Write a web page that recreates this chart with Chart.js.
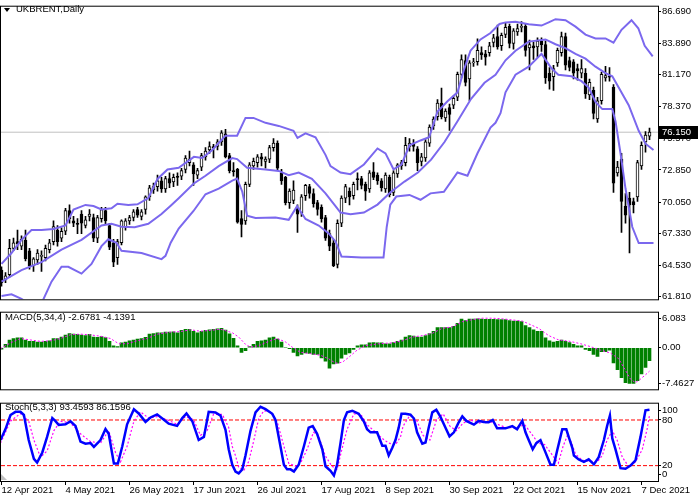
<!DOCTYPE html>
<html><head><meta charset="utf-8">
<script src="https://cdn.jsdelivr.net/npm/chart.js@4.4.0/dist/chart.umd.min.js"></script>
<style>
html,body{margin:0;padding:0;background:#fff;}
#wrap{position:relative;width:698px;height:500px;overflow:hidden;background:#fff;}
canvas{position:absolute;left:0;}
.lbl{position:absolute;font-family:'Liberation Sans',Arial,sans-serif;font-size:9.5px;color:#000;white-space:nowrap;line-height:1;}
.tri{position:absolute;left:4px;top:8px;width:0;height:0;border-left:3px solid transparent;border-right:3px solid transparent;border-top:4px solid #000;}
.shift{position:absolute;left:1px;top:474px;width:0;height:0;border-left:6px solid #c0c0c0;border-top:6px solid transparent;}
</style></head><body>
<div id="wrap">
<canvas id="c1" width="698" height="306" style="top:0;width:698px;height:306px"></canvas>
<canvas id="c2" width="698" height="90" style="top:306px;width:698px;height:90px"></canvas>
<canvas id="c3" width="698" height="103" style="top:397px;width:698px;height:103px"></canvas>
<div class="tri"></div>
<div class="shift"></div>
<div class="lbl" style="left:16px;top:4px">UKBRENT,Daily</div>
<div class="lbl" style="left:5px;top:312px">MACD(5,34,4) -2.6781 -4.1391</div>
<div class="lbl" style="left:5px;top:402px">Stoch(5,3,3) 93.4593 86.1596</div>
</div>
<script>
// ---------------- DATA ----------------
const dateLabels = ["12 Apr 2021","4 May 2021","26 May 2021","17 Jun 2021","26 Jul 2021","17 Aug 2021","8 Sep 2021","30 Sep 2021","22 Oct 2021","15 Nov 2021","7 Dec 2021"];
const dateTickBars = [0,16,32,48,64,80,96,112,128,144,160];

const opens = [64.1,63.3,63.7,66.0,66.6,66.2,66.7,65.8,64.5,65.0,65.3,65.2,65.9,66.6,67.6,66.9,67.5,69.3,68.4,68.2,69.0,68.0,68.8,68.7,66.9,68.6,69.3,68.0,66.5,65.2,66.5,67.9,68.4,68.7,69.4,68.8,69.4,70.5,71.1,71.4,71.9,71.2,72.1,
71.8,72.3,72.3,72.9,73.5,73.3,72.4,73.1,74.0,74.6,74.9,74.9,75.3,76.0,74.1,72.8,72.9,68.6,68.4,71.6,73.2,73.5,74.0,73.6,73.8,74.8,75.2,72.6,72.2,70.0,70.2,69.6,69.1,70.6,71.4,70.8,70.0,69.6,68.7,67.3,66.5,
64.6,68.2,70.4,71.0,70.6,72.1,72.1,71.6,71.2,72.7,72.4,71.9,71.2,72.2,70.9,72.5,73.2,73.5,74.9,75.2,74.7,73.6,73.9,75.2,76.7,77.5,78.7,77.4,78.3,78.5,79.2,81.2,82.4,80.8,82.2,82.3,83.1,83.0,83.1,84.0,84.5,
83.7,84.7,85.4,83.9,84.9,85.3,85.4,83.5,83.7,83.6,84.1,83.8,81.3,81.0,82.2,83.1,84.5,82.4,82.3,81.7,81.3,81.3,79.4,79.8,77.3,78.9,80.9,81.0,80.1,72.6,73.8,69.7,70.4,70.1,70.5,73.2,75.3,75.8];
const highs = [64.4,63.9,66.8,66.9,67.6,67.1,67.6,66.0,65.2,65.9,65.8,66.3,66.8,68.4,68.0,67.8,69.5,69.8,68.8,68.6,69.3,68.8,69.4,69.0,68.9,69.6,69.6,68.2,66.8,66.8,68.5,68.6,68.9,69.4,69.6,69.4,70.6,71.5,71.7,72.4,72.2,72.3,72.6,
72.5,72.6,73.0,74.1,74.5,73.5,73.0,74.3,74.8,75.3,75.1,75.5,76.3,76.4,74.3,73.5,73.0,69.3,71.8,73.5,73.9,74.2,74.3,74.0,75.0,75.6,75.4,72.9,72.3,71.2,71.9,69.8,70.7,71.6,71.6,71.2,70.2,69.8,68.9,67.6,66.8,
68.5,70.6,71.6,71.3,71.8,72.6,72.3,71.8,72.8,73.5,72.6,72.1,72.6,72.4,72.8,73.4,73.7,75.7,75.6,75.5,74.9,74.3,75.5,76.8,77.5,79.0,80.0,78.2,78.6,79.3,81.4,82.9,82.9,82.4,82.6,84.3,83.6,83.3,84.0,84.7,85.5,
84.8,85.7,85.6,85.2,85.6,85.8,85.6,84.2,84.0,84.4,84.4,84.1,81.8,82.0,83.5,84.9,84.8,82.7,82.5,82.1,82.5,81.7,80.8,80.1,79.2,81.4,81.9,81.8,80.3,73.6,74.3,70.8,70.9,70.4,73.7,75.3,76.2,76.5];
const lows = [62.7,63.0,63.5,65.8,65.9,65.9,64.9,64.2,64.0,64.6,64.0,64.9,65.6,66.3,66.2,66.6,67.2,68.2,67.9,67.3,67.3,67.8,68.4,66.6,66.5,68.3,68.1,65.9,64.4,64.6,66.3,67.6,68.1,68.4,68.7,68.5,69.0,70.2,70.8,71.0,70.9,70.9,71.3,
71.4,71.5,72.0,72.6,73.2,71.5,72.1,72.8,73.7,74.3,73.9,74.6,75.0,73.9,72.6,72.3,68.2,67.0,68.1,71.4,72.9,73.1,73.2,73.0,73.5,74.5,72.8,71.6,69.8,69.5,69.9,67.4,68.8,70.2,70.4,69.6,68.9,68.3,66.7,65.8,64.4,
64.3,67.9,70.0,69.8,70.3,71.1,71.2,70.2,70.9,72.0,71.6,71.0,70.9,70.5,70.6,72.2,72.9,73.2,74.5,74.5,72.8,73.2,73.6,74.9,76.4,77.2,77.3,77.1,76.3,78.2,78.9,80.9,80.2,78.9,81.9,82.0,82.5,82.0,82.8,83.6,83.4,
83.3,84.4,83.5,83.4,84.6,84.9,82.8,81.6,82.5,82.7,83.2,80.4,79.9,79.8,81.9,82.8,81.6,81.5,80.8,80.7,80.9,79.1,79.0,77.3,77.0,78.6,80.6,80.6,70.9,72.3,67.4,68.2,65.6,69.1,70.1,72.9,74.4,75.5];
const closes = [63.0,63.6,66.0,66.5,66.4,66.8,65.1,64.5,65.1,65.6,65.35,66.0,66.5,67.9,66.6,67.5,69.3,68.6,68.2,68.1,68.2,68.5,69.0,66.9,68.7,69.4,68.4,66.1,64.8,66.6,68.4,68.4,68.7,69.2,68.9,69.2,70.5,71.3,71.4,71.9,71.2,72.1,71.7,
72.2,72.2,72.8,73.9,73.8,72.5,72.8,74.1,74.5,74.9,74.8,75.3,76.1,74.0,72.8,72.7,68.3,68.1,71.6,73.3,73.6,74.0,73.8,73.8,74.8,75.2,73.0,71.9,70.0,71.0,71.1,69.0,70.5,71.5,70.8,69.9,69.4,68.6,66.9,66.2,64.5,
68.2,70.4,71.4,70.5,71.6,72.0,71.5,71.0,72.6,72.2,71.9,71.3,72.4,70.7,72.6,73.3,73.5,75.0,75.2,74.9,73.5,74.0,75.3,76.6,77.3,78.7,77.5,78.0,77.7,79.1,81.2,82.5,80.5,82.2,82.3,83.3,82.9,82.7,83.7,84.4,83.6,
84.6,85.3,83.9,85.0,85.2,85.4,83.3,83.8,83.5,84.1,83.8,80.9,80.6,81.7,83.3,84.5,82.0,81.8,81.3,81.5,81.7,79.5,80.5,77.8,78.9,81.2,81.1,80.95,71.7,73.1,70.1,68.9,69.8,69.8,73.5,75.0,75.9,76.15];

// Bollinger bands (bar position, value)
const bbUpperX = [0,2.5,5,7.5,10,13,16,18,21,23,25,27.5,29,31.7,34,36.7,39,41.5,44.3,48.1,50.2,52.7,56,58.9,61,63,66,69.3,73,74,76,78.5,81,82.25,84.75,87.25,90.6,94,96,98,100,102,104.75,106.9,109,111.5,114,115.6,117.25,119.75,122.25,124.5,126,128.5,131.8,135,136.8,138.5,141,143.5,146,148.5,151,153,155,157.5,159.2,160.8,162.8];
const bbUpper  = [64.65,65.6,66.75,67.6,67.6,67.7,68.0,69.4,69.8,69.7,69.4,69.5,69.9,69.8,69.85,70.4,72.07,72.9,73.05,74.0,73.9,74.6,75.85,75.85,77.4,77.4,76.97,76.7,76.27,75.65,76.05,75.7,74.17,73.19,72.63,72.49,73.33,74.73,74.3,72.91,73.33,75.01,75.43,75.71,77.95,78.85,79.63,81.59,83.27,84.25,84.81,85.6,85.74,85.79,85.57,85.46,85.74,86.02,85.93,85.37,84.67,84.34,84.34,83.97,85.09,85.93,85.23,83.69,82.77];
const bbMiddleX = [0,5,10,15,20,25,27.5,30,33.3,36.7,40,42.5,44.3,48,51,54.3,57.7,58.9,61.4,66,69.3,71.8,74.3,77.6,81,83.5,84.75,87.25,90.6,94,97.4,100.75,104.1,107.4,110.75,114,117.4,120.75,123.5,126,128.5,131.8,136,138.5,141,143.5,146,148.5,151,152.7,154.3,156.8,159.3,161,163];
const bbMiddle  = [63.1,64.1,64.8,65.9,66.75,68.0,68.15,67.9,67.85,68.15,69.0,69.8,70.39,71.65,72.35,73.19,73.89,73.8,73.05,72.9,72.77,72.4,72.63,72.07,70.81,69.69,69.13,68.99,69.13,69.83,70.95,71.84,72.63,73.75,75.29,77.11,79.07,80.47,81.17,82.43,83.27,84.06,84.25,83.83,83.5,82.99,82.57,81.87,81.31,81.03,80.05,78.51,76.27,75.15,74.59];
const bbLowerX = [0,2.5,5,7.5,10,12.5,15,16.7,20,22.5,25,26.7,28.75,30,35,40,41,42.3,44.3,48,51,54.3,57.7,58.9,60.2,61.4,63.5,68.5,71.8,73.9,76,79.3,81.8,83.5,85,90,95.5,96.3,97.2,98.7,102,104.75,107.25,110.6,114,116.5,119,122.25,123.5,124.75,126,128.5,131.8,135,137.5,139.2,142.5,145,146.8,148.5,150.2,152.7,153.5,154.75,156,157.7,159.3,163];
const bbLower  = [61.85,61.99,61.6,61.0,61.2,63.1,64.4,64.4,63.8,64.65,66.2,66.8,66.5,65.8,65.6,65.07,65.35,66.5,67.73,69.27,70.73,71.23,71.93,72.1,70.95,68.85,68.65,68.71,68.5,69.69,68.57,68.0,67.31,66.61,65.3,65.2,65.2,67.87,69.83,70.53,70.67,70.25,70.81,70.95,72.63,72.35,74.31,76.55,76.97,77.81,79.63,81.17,81.87,82.99,81.73,81.17,81.03,80.61,80.05,78.79,78.17,78.17,77.11,74.31,71.23,67.87,66.47,66.47];

// MACD histogram (one per bar) and signal line
const macdHist = [-0.3,0.7,1.64,1.95,2.07,2.07,1.64,1.34,1.34,1.2,1.2,1.34,1.46,1.95,1.95,2.25,2.68,2.98,2.86,2.8,2.68,2.55,2.8,2.25,2.19,2.37,2.13,1.34,0.43,0.24,1.03,1.22,1.46,1.64,1.82,1.95,2.19,2.86,2.98,3.16,3.16,3.28,3.28,3.34,3.16,3.65,3.89,3.89,3.47,3.16,3.47,3.65,3.77,3.89,3.95,4.07,3.7,2.9,2.0,0.43,
-0.97,-0.6,0.24,0.73,1.34,1.46,1.64,2.07,2.25,1.82,1.22,0.12,-0.2,-0.97,-1.7,-1.4,-1.1,-1.2,-1.4,-1.4,-2.13,-2.8,-4.26,-3.4,-3.22,-2.19,-1.4,-1.1,-0.36,0.43,0.6,0.6,1.03,1.1,1.03,1.03,0.85,0.85,1.1,1.34,
1.64,2.25,2.55,2.43,2.25,2.25,2.55,2.98,3.47,4.26,4.26,4.26,4.26,4.5,5.11,6.0,5.72,6.0,6.0,6.08,6.0,5.95,5.95,5.95,5.9,5.9,5.9,5.72,5.6,5.6,5.47,4.68,4.26,3.77,3.47,3.47,2.07,1.46,1.22,1.34,
1.6,1.34,1.1,0.73,0.43,0.43,-0.36,-0.6,-1.4,-1.8,-0.8,-0.8,-0.5,-3.2,-4.6,-6.26,-7.3,-7.46,-7.46,-6.87,-5.47,-4.14,-2.68];
const macdSignalX = [-0.25,2.25,4.75,7.25,9.75,12.25,14.75,17.25,19.75,22.25,24.75,27.25,29.3,31.4,33.9,36.4,38.9,42.25,44.75,47.25,49.75,52.25,54.75,57.7,59.3,61,62.25,64.3,66.8,68.9,71,72.7,74.75,77.25,79.75,81.8,83.5,85.2,86.8,88.9,91,94.3,97.7,100.2,102.7,105.2,107.7,110.2,112.7,115.2,117.7,120.2,122.7,125.2,127.7,130.2,132.7,134.3,136.8,139.3,141.8,144.75,147.25,149.75,152.25,154.3,156,157.25,158.5,159.75,161,162];
const macdSignal  = [-0.18,1.03,1.95,1.64,1.34,1.46,1.95,2.74,2.86,2.7,2.43,1.95,0.85,0.85,1.46,1.95,2.86,3.28,3.4,3.77,3.47,3.65,3.89,3.16,2.25,0.73,0.12,0.43,1.34,1.95,1.22,0.12,-0.97,-1.22,-1.58,-2.31,-3.22,-3.04,-2.0,-0.49,0.43,0.85,1.03,1.46,2.25,2.55,3.04,4.08,4.38,5.47,5.9,6.2,6.2,6.08,5.84,5.6,4.68,4.08,2.55,1.64,1.4,0.85,0.24,-0.49,-1.1,-2.31,-4.74,-6.57,-7.3,-6.57,-5.66,-4.9];

// Stochastic main (%K) and signal (%D)
const stochMainX = [-0.25,1,2.25,3.5,4.75,5.6,6.8,8.1,8.9,10.2,11.4,12.7,13.5,14.3,16,17.25,18.5,19.75,21,22.25,23.1,24.75,26,26.8,28.1,29.1,30.2,31.4,33.1,34.3,36,37.25,38.9,40.6,41.8,43.9,45.2,46.25,47.7,49.3,50.6,51.8,53.5,54.75,56,56.8,57.7,58.5,59.3,60.2,61,62.25,63.5,64.75,66,67.7,68.5,69.3,70.6,71.4,72.25,73.1,74.3,75.6,76.8,77.8,78.9,80.2,81,82.25,83.1,83.9,84.75,85.6,86.4,87.7,89.3,90.6,91.4,92.25,93.9,95.2,96,96.8,97.7,98.5,99.3,100,101,102.25,103.1,103.9,105.2,106,106.8,107.7,108.7,109.75,111,112,113.1,114.2,115.2,116.2,118.1,119.3,121,121.8,122.8,123.9,126,127.7,128.9,130.2,131,131.8,132.8,133.7,134.75,136,137.25,138.1,138.9,140.2,141.2,141.8,142.7,143.1,144.3,145.6,146.8,148.1,149.3,150.6,151.4,152.1,152.7,153.5,154.75,156,157.25,158.5,159.75,161,162];
const stochMain  = [53.7,68,86.6,90.7,90.7,86.6,53.7,29,24,37.3,57.8,82.5,78.4,73.4,74.3,78.4,72.2,51.6,48.8,49.6,44.7,53.7,68.1,61.9,22.9,22.9,45.5,74.3,94,88.6,77.5,83.3,87.4,80.4,75.1,72.2,82.5,88.6,78.4,53.7,57.8,90.7,89.9,85.8,67,41.5,21.2,12.3,9.9,15.1,33.4,65.8,90.1,97.4,94.2,88.1,80,57.7,21.2,15.1,15.1,12.3,21.2,45.5,69.9,71.9,61.8,41.5,19.2,13.1,7,21.2,49.6,80,90.1,92.2,88.1,78,67.8,63.8,63.8,46.3,46.3,33.4,43.5,53.6,69.9,88.1,88.1,86.9,82,63.8,48.8,50.4,69.9,90.1,93.4,84,69.9,58.5,63.8,75.9,84.9,78.8,73.9,78.8,77.2,77.2,80,69,69,71.9,67.8,78.8,63.8,53.6,41.5,49.6,53.6,37.4,21.2,21.2,39.5,67.8,67.8,57.8,43.4,33.2,28.2,24.9,28.2,21.6,31.1,53.7,72.2,85.8,55.8,41.4,16.7,15.9,20,27,57.8,92.7,93.46];
const stochSignalX = [-0.25,2.25,4.75,6.8,8.1,9.75,11.4,13.1,14.75,17.25,19.75,22.25,24.75,26.8,28.5,29.75,31.4,33.1,34.75,36.8,38.9,41.4,43.9,46,48,49.75,51.4,53,55.2,56.8,57.7,58.5,59.3,60.6,61.8,63.1,64.3,65.6,67.25,68.9,70.6,71.8,73.5,74.75,76.4,78,79.25,80.9,82.6,83.9,85.1,86.4,88.1,89.75,91.4,93.1,95.2,96.8,98.5,99.75,100.4,102.1,103.75,105.4,107.1,108.75,110.4,112.1,113.75,115.4,117.1,119.6,122.1,124.2,126.25,128.75,130.8,132.5,134.2,135.8,137.5,139.2,140.4,141.5,142.5,143.5,145.2,147.25,148.9,150.2,151.4,152.7,153.9,155.2,156.8,158.5,160.2,161.4,162];
const stochSignal  = [49.6,78.4,88.6,78.4,53.7,31.1,39.3,66,78.4,76.3,61.9,51.6,49.6,66,37.3,24.9,45.5,78.4,90.7,82.5,84.5,80.4,74.3,84.5,80.4,59.9,66,87.4,87.4,70.1,45,33,18,13.9,25.3,53.6,82,92.2,90.9,78,45.5,23.2,19.2,23.2,41.5,63.8,59.7,33.4,19.2,15.1,41.5,67.8,88.1,88.1,73.9,65.8,55.7,49.6,47.6,57.7,71.9,86.1,80,59.7,53.6,80,88.1,71.9,65.8,75.9,80,75.9,78,73.9,69.9,69.9,73.9,61.8,49.6,47.6,35.4,23.2,45.5,60,50,35.2,27,25.8,24.9,33.2,53.7,66,53.7,31.1,18.8,24.9,41.4,68.1,86.16];

// axis tick labels
const priceTicks = [86.69,83.89,81.17,78.37,75.57,72.85,70.05,67.33,64.53,61.81];
const macdTicks = [6.083,0,-7.4627];
const macdTickLabels = ["6.083","0.00","-7.4627"];
const stochLevels = [80,20];
const stochTickLabels = ["100","80","20","0"];

// ---------------- CHARTS ----------------
Chart.defaults.font.family = "'Liberation Sans', Arial, sans-serif";
Chart.defaults.font.size = 9.5;
Chart.defaults.color = '#000';

const X_MIN = -0.125, X_MAX = 164.125;
const pts = (xs, ys) => xs.map((x, i) => ({x, y: ys[i]}));
const hline = v => [{x: X_MIN, y: v}, {x: X_MAX, y: v}];

const framePlugin = {
  id: 'frame',
  afterDraw(chart) {
    const {ctx, chartArea: a} = chart;
    ctx.save();
    ctx.strokeStyle = '#000'; ctx.lineWidth = 1;
    ctx.strokeRect(a.left - 0.5, a.top - 0.5, a.right - a.left + 1, a.bottom - a.top + 1);
    ctx.restore();
  }
};

function yAxis(min, max, tickVals, fmt) {
  return {
    type: 'linear', position: 'right', min, max,
    afterBuildTicks: s => { s.ticks = tickVals.map(v => ({value: v})); },
    afterFit: s => { s.width = 40; },
    grid: {display: true, drawOnChartArea: false, drawTicks: true, tickLength: 3, color: '#000'},
    border: {display: true, color: '#000'},
    ticks: {padding: 1, color: '#000', autoSkip: false, maxRotation: 0, callback: fmt}
  };
}
const hiddenX = {type: 'linear', min: X_MIN, max: X_MAX, display: false, offset: false, grid: {offset: false}};
const common = {
  responsive: false, animation: false, events: [],
  plugins: {legend: {display: false}, tooltip: {enabled: false}}
};

// ---- main price panel ----
const lastClose = closes[closes.length - 1];
const pricePlugin = {
  id: 'priceTag',
  afterDraw(chart) {
    const {ctx, chartArea: a} = chart;
    const y = Math.round(chart.scales.y.getPixelForValue(lastClose));
    ctx.save();
    ctx.fillStyle = '#000';
    ctx.fillRect(a.right + 1, y - 6, chart.width - a.right - 1, 13);
    ctx.fillStyle = '#fff';
    ctx.font = "9.5px 'Liberation Sans', Arial, sans-serif";
    ctx.textBaseline = 'middle';
    ctx.fillText(lastClose.toFixed(3), a.right + 4, y + 0.5);
    ctx.restore();
  }
};
const bandStyle = {type: 'line', borderColor: '#7b68ee', borderWidth: 2, pointRadius: 0, tension: 0, clip: 0, order: -2};
new Chart(document.getElementById('c1'), {
  type: 'bar',
  data: {datasets: [
    Object.assign({data: pts(bbUpperX, bbUpper)}, bandStyle),
    Object.assign({data: pts(bbMiddleX, bbMiddle)}, bandStyle),
    Object.assign({data: pts(bbLowerX, bbLower)}, bandStyle),
    {type: 'bar', data: closes.map((c, i) => ({x: i, y: [opens[i], c]})),
     backgroundColor: closes.map((c, i) => c >= opens[i] ? '#ffffff' : '#000000'),
     borderColor: '#000', borderWidth: 1, borderSkipped: false, barThickness: 3, minBarLength: 1, grouped: false, order: 0},
    {type: 'bar', data: closes.map((c, i) => ({x: i, y: [lows[i], highs[i]]})),
     backgroundColor: '#000', borderWidth: 0, barThickness: 1, grouped: false, order: 1},
    {type: 'line', data: hline(lastClose), borderColor: '#c0c0c0', borderWidth: 1, pointRadius: 0, order: 2}
  ]},
  options: Object.assign({}, common, {
    layout: {padding: {left: 1, top: 1, right: 0, bottom: 1}},
    scales: {
      x: hiddenX,
      y: yAxis(61.558, 87.110, priceTicks, v => v.toFixed(3))
    }
  }),
  plugins: [framePlugin, pricePlugin]
});

// ---- MACD panel ----
new Chart(document.getElementById('c2'), {
  type: 'bar',
  data: {datasets: [
    {type: 'line', data: pts(macdSignalX, macdSignal), borderColor: '#ff00ff', borderWidth: 1, borderDash: [2, 2], pointRadius: 0, tension: 0, clip: 0, order: -1},
    {type: 'bar', data: macdHist.map((v, i) => ({x: i, y: v})), backgroundColor: '#008000', borderWidth: 0, barThickness: 3, grouped: false, order: 0}
  ]},
  options: Object.assign({}, common, {
    layout: {padding: {left: 1, top: 1, right: 0, bottom: 1}},
    scales: {
      x: hiddenX,
      y: yAxis(-8.704, 7.354, macdTicks, (v, i) => macdTickLabels[i])
    }
  }),
  plugins: [framePlugin]
});

// ---- Stochastic panel ----
new Chart(document.getElementById('c3'), {
  type: 'line',
  data: {datasets: [
    {data: pts(stochMainX, stochMain), borderColor: '#0000ff', borderWidth: 2.5, pointRadius: 0, tension: 0, clip: 0, order: 0},
    {data: pts(stochSignalX, stochSignal), borderColor: '#ff00ff', borderWidth: 1.2, borderDash: [2, 2], pointRadius: 0, tension: 0, clip: 0, order: 1},
    {data: hline(stochLevels[0]), borderColor: '#ff0000', borderWidth: 1, borderDash: [4, 2], pointRadius: 0, order: 2},
    {data: hline(stochLevels[1]), borderColor: '#ff0000', borderWidth: 1, borderDash: [4, 2], pointRadius: 0, order: 2}
  ]},
  options: Object.assign({}, common, {
    layout: {padding: {left: 1, top: 1, right: 0, bottom: 0}},
    scales: {
      x: {
        type: 'linear', position: 'bottom', min: X_MIN, max: X_MAX, offset: false,
        afterBuildTicks: s => { s.ticks = dateTickBars.map(v => ({value: v})); },
        afterFit: s => { s.height = 19; },
        grid: {display: true, drawOnChartArea: false, drawTicks: true, tickLength: 4, color: '#000', offset: false},
        border: {display: true, color: '#000'},
        ticks: {align: 'start', padding: 0, autoSkip: false, maxRotation: 0, color: '#000', callback: (v, i) => dateLabels[i]}
      },
      y: yAxis(-0.204, 101.43, [92.6, 80, 20, 8.1], (v, i) => stochTickLabels[i])
    }
  }),
  plugins: [framePlugin]
});
</script>
</body></html>
